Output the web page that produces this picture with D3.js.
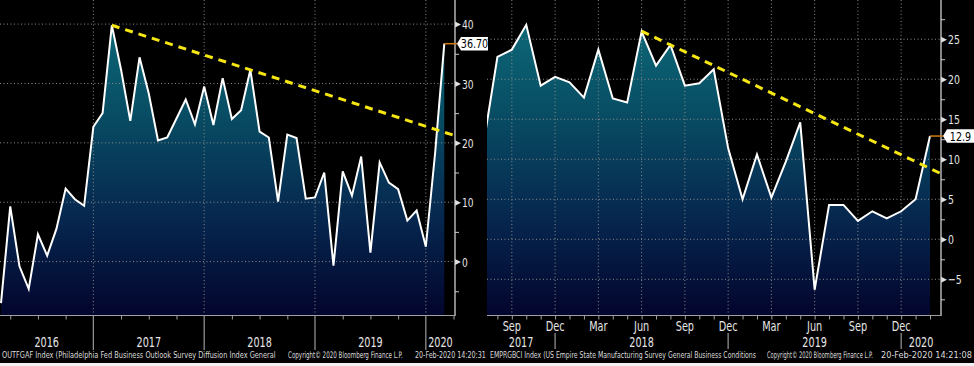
<!DOCTYPE html>
<html><head><meta charset="utf-8">
<script src="https://cdn.jsdelivr.net/npm/d3@7"></script>
<style>html,body{margin:0;padding:0;background:#000;overflow:hidden}svg{display:block}</style>
</head><body><svg id="c" width="974" height="366"></svg>
<script>
// ---------- DATA ----------
const leftMonths = ["2016-02","2016-03","2016-04","2016-05","2016-06","2016-07","2016-08","2016-09","2016-10","2016-11","2016-12",
"2017-01","2017-02","2017-03","2017-04","2017-05","2017-06","2017-07","2017-08","2017-09","2017-10","2017-11","2017-12",
"2018-01","2018-02","2018-03","2018-04","2018-05","2018-06","2018-07","2018-08","2018-09","2018-10","2018-11","2018-12",
"2019-01","2019-02","2019-03","2019-04","2019-05","2019-06","2019-07","2019-08","2019-09","2019-10","2019-11","2019-12",
"2020-01","2020-02"];
const leftValues = [-7.0, 9.3, -0.8, -4.6, 4.6, 1.0, 5.5, 12.3, 10.5, 9.4, 22.7,
 25.0, 39.8, 32.3, 23.7, 34.4, 28.3, 20.4, 20.9, 24.1, 27.3, 23.1, 29.5,
 23.0, 30.9, 24.0, 25.5, 32.3, 21.9, 20.9, 10.1, 21.4, 20.8, 10.6, 10.8,
 15.0, -0.7, 15.2, 11.1, 17.7, 1.5, 16.7, 13.3, 12.2, 6.9, 8.6, 2.5,
 18.2, 36.7];
const leftTrend = [{i: 12, v: 39.8}, {i: 49.16, v: 21.2}];
const leftYTicks = [0, 10, 20, 30, 40];
const leftYMinor = [-5, 5, 15, 25, 35];
const leftYearLabels = ["2016", "2017", "2018", "2019", "2020"];
const leftLast = "36.70";
const leftFooter = ["OUTFGAF Index (Philadelphia Fed Business Outlook Survey Diffusion Index General", "Copyright\u00A9 2020 Bloomberg Finance L.P.", "20-Feb-2020 14:20:31"];

const rightMonths = ["2017-07","2017-08","2017-09","2017-10","2017-11","2017-12",
"2018-01","2018-02","2018-03","2018-04","2018-05","2018-06","2018-07","2018-08","2018-09","2018-10","2018-11","2018-12",
"2019-01","2019-02","2019-03","2019-04","2019-05","2019-06","2019-07","2019-08","2019-09","2019-10","2019-11","2019-12",
"2020-01","2020-02"];
const rightValues = [11.5, 22.8, 23.7, 26.8, 19.2, 20.3,
 19.6, 17.7, 23.7, 17.6, 17.1, 25.95, 21.7, 24.3, 19.2, 19.5, 21.25, 11.4,
 5.0, 10.6, 5.2, 9.7, 14.6, -6.3, 4.3, 4.3, 2.3, 3.5, 2.6, 3.5,
 5.0, 12.9];
const rightTrend = [{i: 11, v: 26.0}, {i: 31.76, v: 8.2}];
const rightYTicks = [-5, 0, 5, 10, 15, 20, 25];
const rightYMinor = [-7.5, -2.5, 2.5, 7.5, 12.5, 17.5, 22.5, 27.5];
const rightMonthLabels = ["Sep", "Dec", "Mar", "Jun", "Sep", "Dec", "Mar", "Jun", "Sep", "Dec"];
const rightYearLabels = ["2017", "2018", "2019", "2020"];
const rightLast = "12.9";
const rightFooter = ["EMPRGBCI Index (US Empire State Manufacturing Survey General Business Conditions", "Copyright\u00A9 2020 Bloomberg Finance L.P.", "20-Feb-2020 14:21:08"];

// ---------- DRAW ----------
const FONT = "'Liberation Sans Narrow','DejaVu Sans Condensed','Liberation Sans',sans-serif";
const svg = d3.select("#c");
svg.append("rect").attr("width", 974).attr("height", 366).attr("fill", "#000");

const defs = svg.append("defs");
const grad = defs.append("linearGradient").attr("id", "fillg")
  .attr("gradientUnits", "userSpaceOnUse").attr("x1", 0).attr("y1", 0).attr("x2", 0).attr("y2", 315);
[[0, "rgb(14,110,124)"], [0.35, "rgb(8,78,100)"], [0.7, "rgb(6,38,78)"], [1, "rgb(3,5,45)"]]
  .forEach(([o, c]) => grad.append("stop").attr("offset", o).attr("stop-color", c));

function condensedText(g, x, y, txt, size, sx, anchor, fill) {
  return g.append("text")
    .attr("transform", `translate(${x},${y}) scale(${sx},1)`)
    .attr("text-anchor", anchor || "middle")
    .attr("font-family", FONT).attr("font-size", size)
    .attr("fill", fill || "#e6e6e6").text(txt);
}

function fitText(g, x0, x1, y, txt, size, fill) {
  const t = g.append("text").attr("x", 0).attr("y", 0)
    .attr("font-family", FONT).attr("font-size", size).attr("fill", fill).text(txt);
  const w = t.node().getComputedTextLength() || 1;
  const sx = (x1 - x0) / w;
  t.attr("transform", `translate(${x0},${y}) scale(${sx},1)`);
  return t;
}

function panel(cfg) {
  const g = svg.append("g");
  const x = d3.scaleLinear().domain([0, cfg.values.length - 1]).range(cfg.xr);
  const y = d3.scaleLinear().domain(cfg.yd).range([315, 0]);
  const cid = "clip" + cfg.id;
  defs.append("clipPath").attr("id", cid).append("rect")
    .attr("x", cfg.left).attr("y", 0).attr("width", cfg.axisX - cfg.left).attr("height", 315);

  const data = cfg.values.map((v, i) => ({i, v, m: cfg.months[i]}));
  const plot = g.append("g").attr("clip-path", `url(#${cid})`);
  plot.append("path").datum(data)
    .attr("d", d3.area().x(d => x(d.i)).y0(315).y1(d => y(d.v)))
    .attr("fill", "url(#fillg)");

  // grid
  cfg.yTicks.forEach(t => plot.append("line")
    .attr("x1", cfg.left).attr("x2", cfg.axisX).attr("y1", y(t)).attr("y2", y(t))
    .attr("stroke", "#8a8a8a").attr("stroke-width", 1).attr("stroke-dasharray", "1,2.5"));
  cfg.vGrid.forEach(t => plot.append("line")
    .attr("x1", x(t)).attr("x2", x(t)).attr("y1", 0).attr("y2", 315)
    .attr("stroke", "#8a8a8a").attr("stroke-width", 1).attr("stroke-dasharray", "1,2.5"));

  plot.append("path").datum(data)
    .attr("d", d3.line().x(d => x(d.i)).y(d => y(d.v)))
    .attr("fill", "none").attr("stroke", "#fff").attr("stroke-width", 2).attr("stroke-linejoin", "miter");

  // trend
  plot.append("path").datum(cfg.trend)
    .attr("d", d3.line().x(d => x(d.i)).y(d => y(d.v)))
    .attr("fill", "none").attr("stroke", "#f5e614").attr("stroke-width", 3).attr("stroke-dasharray", "8,6");

  // y axis (minor)
  const yMinor = d3.axisRight(y).tickValues(cfg.yMinor).tickSize(4).tickFormat("");
  const gm = g.append("g").attr("transform", `translate(${cfg.axisX},0)`).call(yMinor);
  gm.select(".domain").remove();
  gm.selectAll("line").attr("stroke", "#c8c8c8");
  // y axis (major)
  const yMajor = d3.axisRight(y).tickValues(cfg.yTicks).tickSize(0).tickPadding(0);
  const ga = g.append("g").attr("transform", `translate(${cfg.axisX},0)`).call(yMajor);
  ga.select(".domain").remove();
  ga.selectAll(".tick").append("path").attr("d", "M0,-3L6,0L0,3Z").attr("fill", "#e0e0e0");
  ga.selectAll("text").attr("x", 0).attr("dy", "0.35em")
    .attr("transform", `translate(7,0) scale(${cfg.ysx},1)`)
    .attr("font-family", FONT).attr("font-size", 13).attr("fill", "#e6e6e6").attr("text-anchor", "start");

  // axis lines
  g.append("line").attr("x1", cfg.axisX).attr("x2", cfg.axisX).attr("y1", 0).attr("y2", 316)
    .attr("stroke", "#cfcfcf").attr("stroke-width", 1.3);
  g.append("line").attr("x1", cfg.left).attr("x2", cfg.axisX).attr("y1", 315.5).attr("y2", 315.5)
    .attr("stroke", "#a0a0a0").attr("stroke-width", 1.2);

  // x ticks
  const xa = d3.axisBottom(x).tickValues(cfg.xTicks).tickSize(4).tickFormat("");
  const gx = g.append("g").attr("transform", "translate(0,315.5)").call(xa);
  gx.select(".domain").remove();
  gx.selectAll("line").attr("stroke", "#a0a0a0");
  cfg.sep.forEach(t => g.append("line").attr("x1", x(t)).attr("x2", x(t))
    .attr("y1", cfg.sepY[0]).attr("y2", cfg.sepY[1]).attr("stroke", "#9a9a9a").attr("stroke-width", 1.2));

  // month labels
  if (cfg.monthLabels) cfg.monthLabels.forEach((lab, k) =>
    condensedText(g, x(cfg.labelIdx[k]), 330.5, lab, 13.5, 0.8));
  // year labels
  const bounds = [cfg.left].concat(cfg.sep.map(t => x(t))).concat([cfg.axisX]);
  cfg.yearLabels.forEach((lab, k) =>
    condensedText(g, (bounds[k] + bounds[k + 1]) / 2, 346.5, lab, 14.5, 0.74));

  // last value marker
  const lv = cfg.values[cfg.values.length - 1];
  const lx = x(cfg.values.length - 1), ly = y(lv);
  g.append("line").attr("x1", lx).attr("x2", cfg.boxX).attr("y1", ly).attr("y2", ly)
    .attr("stroke", "#d27a12").attr("stroke-width", 1.5);
  g.append("path").attr("d", `M${cfg.boxX},${ly}L${cfg.boxX + 4},${ly - 6.8}L${cfg.boxX + cfg.boxW},${ly - 6.8}L${cfg.boxX + cfg.boxW},${ly + 6.8}L${cfg.boxX + 4},${ly + 6.8}Z`)
    .attr("fill", "#fff");
  condensedText(g, cfg.boxX + 4 + (cfg.boxW - 4) / 2, ly + 4.6, cfg.last, 13, 0.82, "middle", "#000");

  // footer
  cfg.footer.forEach((t, k) => fitText(g, cfg.footX[k][0], cfg.footX[k][1], 357.5, t, 9, "#dcdcdc"));
}

panel({
  id: "L", months: leftMonths, values: leftValues, trend: leftTrend,
  xr: [1, 444.3], yd: [-9, 44.06], left: 0, axisX: 455,
  yTicks: leftYTicks, yMinor: leftYMinor, ysx: 0.78,
  vGrid: [10, 22, 34, 46],
  xTicks: [1, 4, 7, 13, 16, 19, 25, 28, 31, 37, 40, 43, 49],
  sep: [10, 22, 34, 46], sepY: [315.5, 350],
  yearLabels: leftYearLabels,
  last: leftLast, boxX: 457, boxW: 31,
  footer: leftFooter, footX: [[2, 276], [288, 403], [415, 486]]
});
panel({
  id: "R", months: rightMonths, values: rightValues, trend: rightTrend,
  xr: [483, 930], yd: [-9.46, 29.9], left: 487, axisX: 941,
  yTicks: rightYTicks, yMinor: rightYMinor, ysx: 0.8,
  vGrid: [2, 5, 8, 11, 14, 17, 20, 23, 26, 29],
  xTicks: d3.range(1, 32),
  sep: [5, 17, 29], sepY: [333, 349],
  monthLabels: rightMonthLabels, labelIdx: [2, 5, 8, 11, 14, 17, 20, 23, 26, 29],
  yearLabels: rightYearLabels,
  last: rightLast, boxX: 943, boxW: 31,
  footer: rightFooter, footX: [[490, 756], [767, 873], [881, 972]]
});

svg.append("rect").attr("x", 0).attr("y", 363).attr("width", 974).attr("height", 3).attr("fill", "#f2f2f2");
</script>
</body></html>
